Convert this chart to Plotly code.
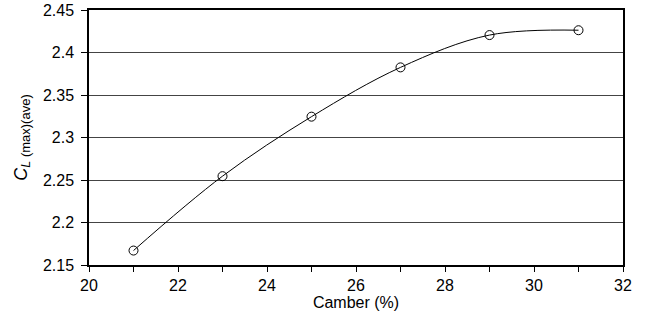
import plotly.graph_objects as go

camber = [21, 23, 25, 27, 29, 31]
cl_max_ave = [2.167, 2.2545, 2.3245, 2.3825, 2.4205, 2.4262]

x_ticks = [20, 22, 24, 26, 28, 30, 32]
y_ticks = [2.15, 2.2, 2.25, 2.3, 2.35, 2.4, 2.45]

font = "Liberation Sans, Arial, sans-serif"

fig = go.Figure()
fig.add_trace(go.Scatter(
    x=camber, y=cl_max_ave, mode="lines+markers",
    line=dict(color="black", width=1, shape="spline", smoothing=1.0),
    marker=dict(symbol="circle-open", size=9, color="black", line=dict(width=1)),
    showlegend=False,
))

fig.update_layout(
    width=658, height=327,
    margin=dict(l=89, r=35, t=10, b=62),
    paper_bgcolor="white", plot_bgcolor="white",
    font=dict(family=font, size=16, color="black"),
    xaxis=dict(
        range=[20, 32], tickvals=x_ticks, ticktext=[str(v) for v in x_ticks],
        ticks="outside", ticklen=5, tickcolor="black", tickwidth=1,
        minor=dict(dtick=1, tick0=20, ticks="outside", ticklen=5, tickcolor="black", showgrid=False),
        showline=True, linecolor="black", linewidth=1.5, mirror=True,
        showgrid=False, zeroline=False, automargin=False,
        tickfont=dict(size=16),
        title=dict(text="Camber (%)", standoff=0, font=dict(size=16)),
    ),
    yaxis=dict(
        range=[2.15, 2.45], tickvals=y_ticks, ticktext=[f"{v:g}" for v in y_ticks],
        ticks="outside", ticklen=6, tickcolor="black", tickwidth=1,
        ticklabelstandoff=4,
        showline=True, linecolor="black", linewidth=1.5, mirror=True,
        showgrid=True, gridcolor="#444444", gridwidth=1, zeroline=False,
        automargin=False, tickfont=dict(size=16),
        title=dict(text="<i>C<sub>L</sub></i><sub><span style='font-size:13px'> (max)(ave)</span></sub>",
                   standoff=11, font=dict(size=18)),
    ),
)

fig.write_html("out.html", config={"displayModeBar": False},
               post_script="document.body.style.margin='0';document.body.style.overflow='hidden';")
